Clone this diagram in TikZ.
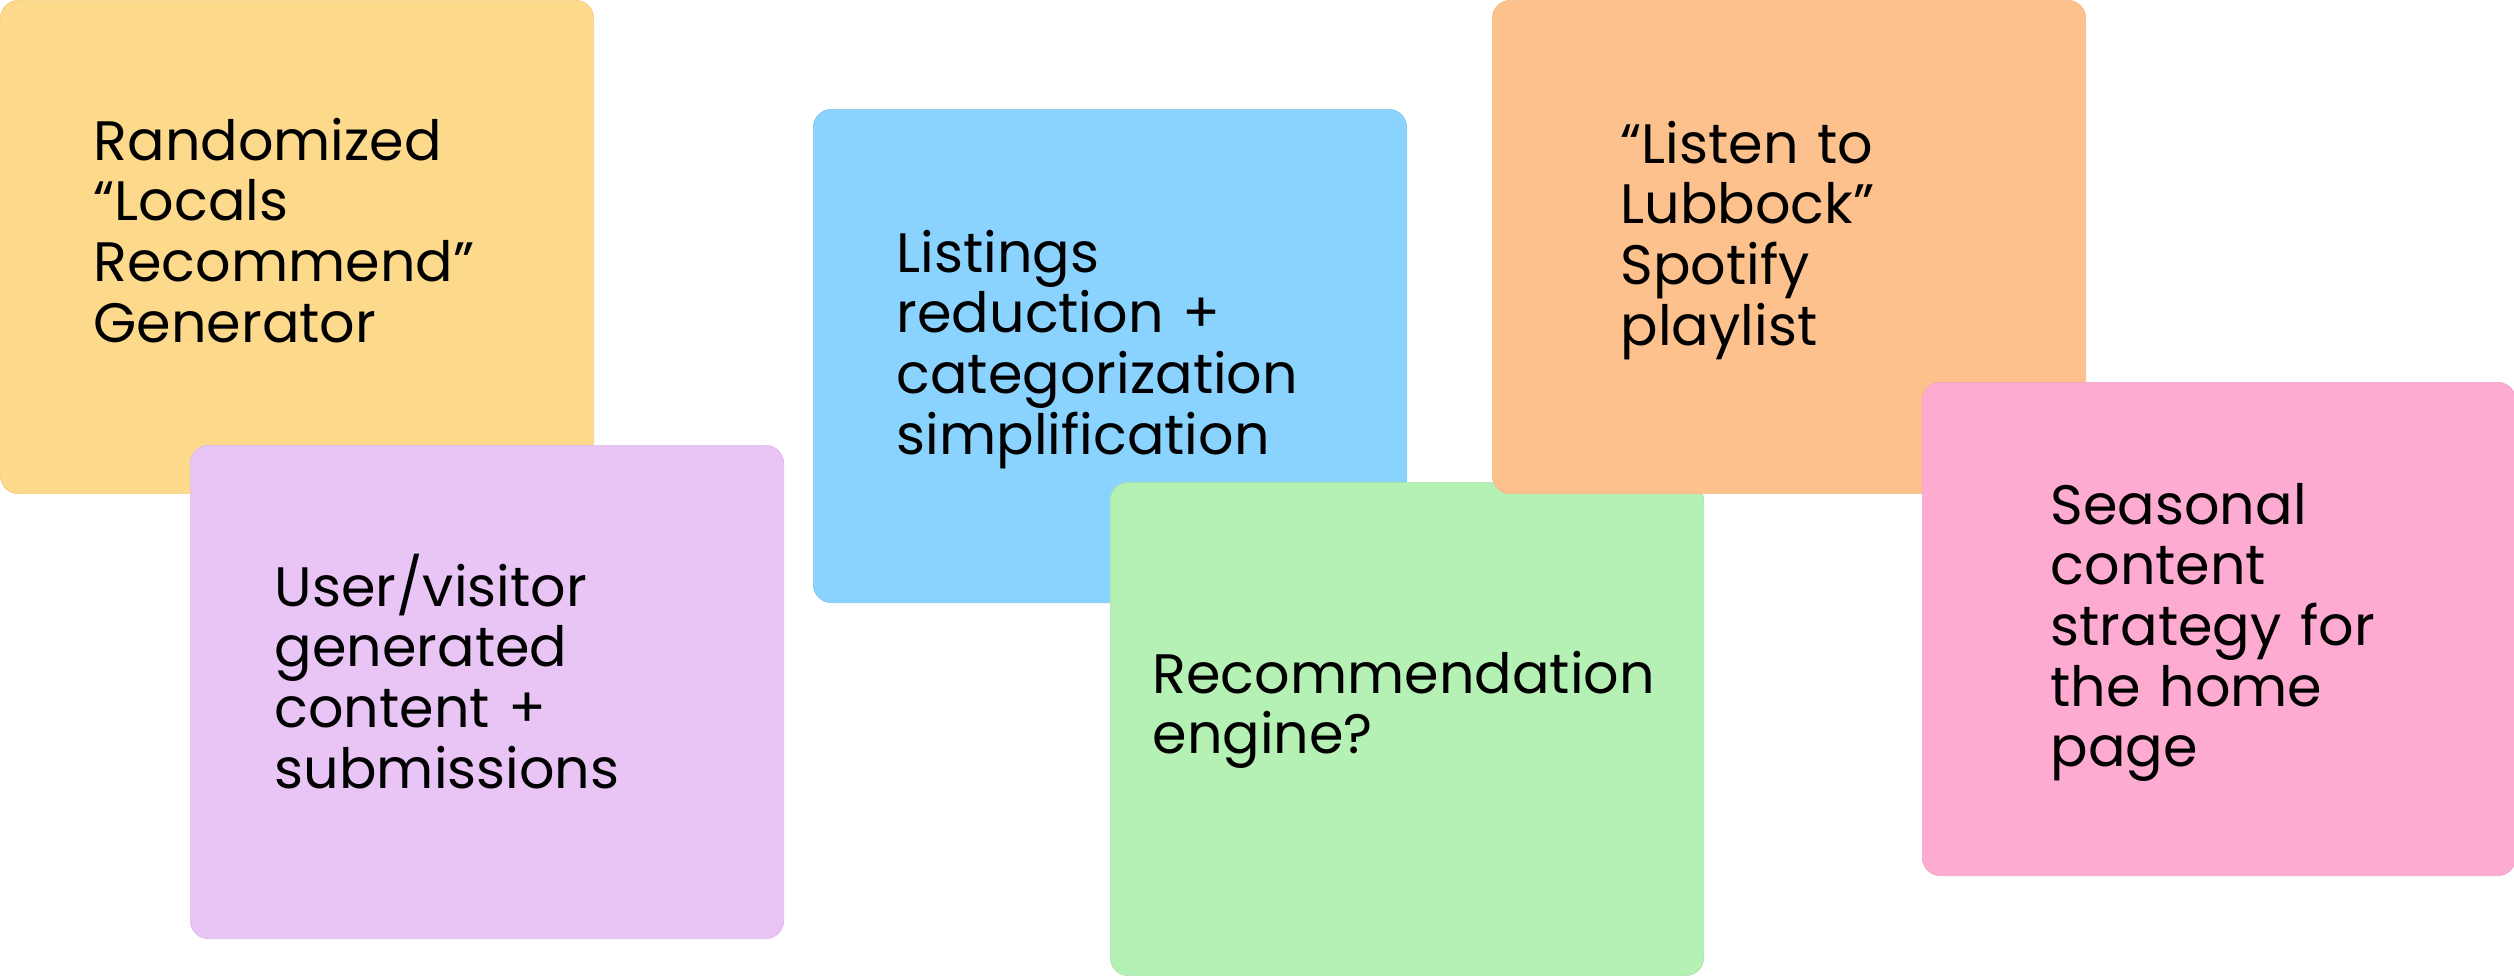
\documentclass[tikz,border=0pt]{standalone}
\usepackage{fontspec}
\setmainfont{Poppins}
\usetikzlibrary{positioning, calc}

\definecolor{noteyellow}{HTML}{FDD98C}
\definecolor{notepurple}{HTML}{E8C5F5}
\definecolor{noteblue}{HTML}{8AD3FF}
\definecolor{notegreen}{HTML}{B5F0B4}
\definecolor{noteorange}{HTML}{FDC18D}
\definecolor{notepink}{HTML}{FEABD1}

\begin{document}
\begin{tikzpicture}[
        x=0.01cm, y=-0.01cm,
        note/.style={rectangle, rounded corners=0.18cm, minimum width=5.93cm,
                minimum height=4.93cm, inner sep=0pt, anchor=north west,
                fill=#1, draw=#1!95!black, line width=0.2pt},
        notetext/.style={anchor=base west, inner sep=0pt, text width=5.2cm,
                align=left, font=\fontsize{15.8}{17.27}\selectfont}, ]

        \useasboundingbox (0,0) rectangle (2514,975);

        % === LEFT PAIR ===
        \node[note=noteyellow] (yellow) at (0,0) {};
        \node[notetext] (yellowtxt) at ($(yellow.north west)+(93,160)$)
            {Randomized\\“Locals\\Recommend”\\Generator};

        \node[note=notepurple] (purple) at (190,445) {};
        \node[notetext] (purpletxt) at ($(purple.north west)+(84,161)$)
            {User/visitor\\generated\\content +\\submissions};

        % === MIDDLE PAIR ===
        \node[note=noteblue] (blue) at (813,109) {};
        \node[notetext] (bluetxt) at ($(blue.north west)+(83,163)$)
            {Listings\\reduction +\\categorization\\simplification};

        \node[note=notegreen] (green) at (1110,482) {};
        \node[notetext] (greentxt) at ($(green.north west)+(42,211)$)
            {Recommendation\\engine?};

        % === RIGHT PAIR ===
        \node[note=noteorange] (orange) at (1492,0) {};
        \node[notetext] (orangetxt) at ($(orange.north west)+(128,163)$)
            {“Listen to\\Lubbock”\\Spotify\\playlist};

        \node[note=notepink] (pink) at (1922,382) {};
        \node[notetext] (pinktxt) at ($(pink.north west)+(128,142)$)
            {Seasonal\\content\\strategy for\\the home\\page};
    \end{tikzpicture}
\end{document}
